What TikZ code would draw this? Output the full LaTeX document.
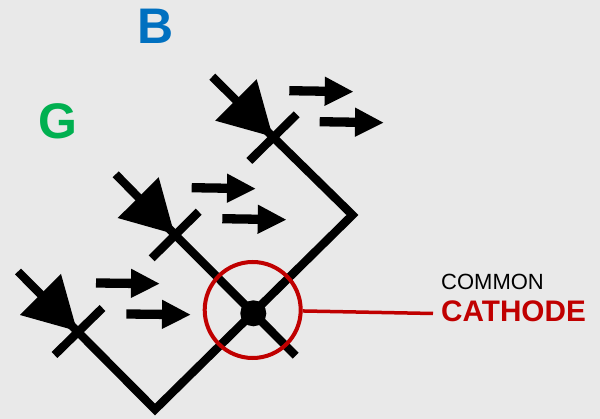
\documentclass[tikz,border=0pt]{standalone}
\usepackage{fontspec}
\setmainfont{Liberation Sans}
\usetikzlibrary{arrows.meta}
\definecolor{bgc}{HTML}{E9E9E9}
\definecolor{gc}{HTML}{00B050}
\definecolor{bc}{HTML}{0070C0}
\definecolor{rc}{HTML}{C00000}
\tikzset{
  wire/.style={draw=black,line width=8.4pt,line cap=butt,line join=miter},
  diodehead/.style={fill=black,draw=none},
  light/.style={draw=black,line width=9.3pt,-{Triangle[length=29pt,width=27pt]}},
  letter/.style={anchor=base west,inner sep=0pt,font=\fontsize{50}{50}\selectfont\bfseries},
  ring/.style={circle,draw=rc,line width=4pt,minimum size=96pt,inner sep=0pt},
  leader/.style={draw=rc,line width=3.5pt},
  joint/.style={circle,fill=black,minimum size=26pt,inner sep=0pt}
}
\begin{document}
\begin{tikzpicture}[x=1pt,y=-1pt]
\useasboundingbox[fill=bgc] (0,0) rectangle (600,419);
% blue diode
\coordinate (bt) at (272.7,136.7);
\coordinate (bh1) at (256.7,79.3);
\coordinate (bh2) at (215.3,120.7);
\coordinate (bl) at (212.3,76.7);
\coordinate (bb1) at (296.7,114.3);
\coordinate (bb2) at (249.3,161);
% green diode
\coordinate (mt) at (174.3,234);
\coordinate (mh1) at (158.7,177.3);
\coordinate (mh2) at (117.7,218);
\coordinate (ml) at (115.7,174.3);
\coordinate (mb1) at (198.7,211.7);
\coordinate (mb2) at (151.7,258.3);
% red diode
\coordinate (rt) at (77,331);
\coordinate (rh1) at (61,274);
\coordinate (rh2) at (20,315);
\coordinate (rl) at (18,271.5);
\coordinate (rb1) at (102.5,308);
\coordinate (rb2) at (54.5,355);
% wire bends
\coordinate (low) at (155,409.5);
\coordinate (high) at (352.5,215);
\coordinate (tail) at (295.7,355.7);
\node[joint] (dot) at (253.3,313.3) {};
% wires
\draw[wire] (rl) -- (rt) -- (low) -- (high) -- (bt) -- (bl);
\draw[wire] (ml) -- (mt) -- (tail);
\draw[wire] (bb1) -- (bb2);
\draw[wire] (mb1) -- (mb2);
\draw[wire] (rb1) -- (rb2);
% heads
\fill[diodehead] (bt) -- (bh1) -- (bh2) -- cycle;
\fill[diodehead] (mt) -- (mh1) -- (mh2) -- cycle;
\fill[diodehead] (rt) -- (rh1) -- (rh2) -- cycle;
% light arrows
\foreach \n/\ax/\ay/\bx/\by in {a/96/283/160/283.7,b/126.3/314/191/314.7,c/191.7/187.7/256/188.7,d/222.3/218.7/286.7/219.7,e/289.3/90.7/353.7/91.7,f/319.7/121.7/384/122.7}{
  \coordinate (\n s) at (\ax,\ay);
  \coordinate (\n e) at (\bx,\by);
  \draw[light] (\n s) -- (\n e);
}
% ring and labels
\node[ring] (cring) at (252.7,310) {};
\coordinate (leadend) at (433,313.5);
\draw[leader] (cring) -- (leadend);
\node[letter,text=bc] (lb) at (137,44) {B};
\node[letter,text=gc] (lg) at (38.5,138.5) {G};
\node[anchor=base west,inner sep=0pt,font=\fontsize{22}{22}\selectfont] (lcommon) at (441,290) {COMMON};
\node[anchor=base west,inner sep=0pt,text=rc,font=\fontsize{29.7}{29.7}\selectfont\bfseries] (lcath) at (441,321.7) {CATHODE};
\end{tikzpicture}
\end{document}
